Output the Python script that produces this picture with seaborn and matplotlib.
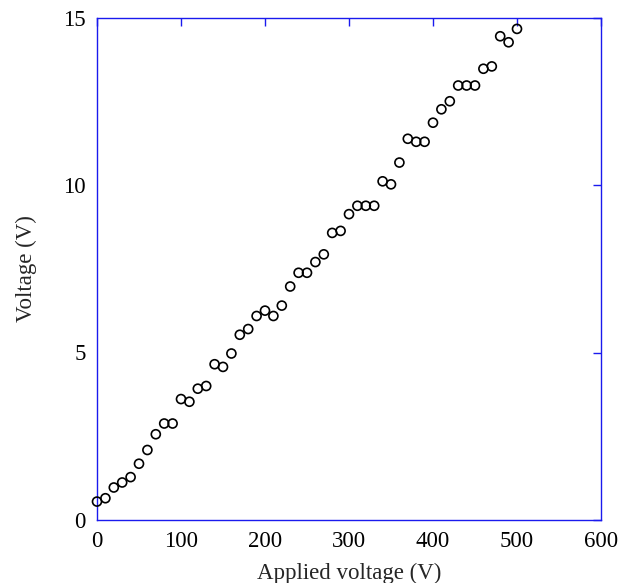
import matplotlib
matplotlib.use("Agg")
import matplotlib.pyplot as plt
import seaborn as sns
import pandas as pd

applied_v = [0, 10, 20, 30, 40, 50, 60, 70, 80, 90,
             100, 110, 120, 130, 140, 150, 160, 170, 180, 190,
             200, 210, 220, 230, 240, 250, 260, 270, 280, 290,
             300, 310, 320, 330, 340, 350, 360, 370, 380, 390,
             400, 410, 420, 430, 440, 450, 460, 470, 480, 490, 500]
voltage = [0.55, 0.65, 0.97, 1.12, 1.28, 1.68, 2.09, 2.56, 2.88, 2.88,
           3.61, 3.53, 3.92, 4.00, 4.65, 4.57, 4.97, 5.53, 5.70, 6.09,
           6.25, 6.09, 6.40, 6.97, 7.38, 7.38, 7.70, 7.93, 8.57, 8.63,
           9.13, 9.38, 9.38, 9.38, 10.11, 10.02, 10.67, 11.38, 11.29, 11.29,
           11.86, 12.26, 12.50, 12.97, 12.97, 12.97, 13.47, 13.54, 14.44, 14.26, 14.66]

x_ticks = [0, 100, 200, 300, 400, 500, 600]
y_ticks = [0, 5, 10, 15]

sns.set_style("white")
plt.rcParams['font.family'] = ['Liberation Serif', 'DejaVu Serif']

df = pd.DataFrame({"Applied voltage (V)": applied_v, "Voltage (V)": voltage})

fig = plt.figure(figsize=(6.3, 5.83), dpi=100)
ax = fig.add_axes([97/630, 1-520/583, (601-97)/630, (520-17.5)/583])

sns.scatterplot(data=df, x="Applied voltage (V)", y="Voltage (V)", ax=ax,
                marker="o", s=42, facecolor="none", edgecolor="black",
                linewidth=1.2, zorder=3, clip_on=False)

ax.set_xlim(0, 600)
ax.set_ylim(0, 15)
ax.set_xticks(x_ticks)
ax.set_yticks(y_ticks)
ax.set_xlabel("Applied voltage (V)", fontsize=16.5, labelpad=8)
ax.set_ylabel("Voltage (V)", fontsize=16.5, labelpad=19)

for sp in ax.spines.values():
    sp.set_visible(True)
    sp.set_color("#1a1aee")
    sp.set_linewidth(1.0)

ax.tick_params(axis="both", which="both", direction="in", length=6, width=1,
               color="#1a1aee", labelsize=16.5, top=True, right=True,
               labelcolor="black")
ax.tick_params(axis="x", pad=8)
ax.tick_params(axis="y", pad=8)

fig.savefig("out.png", dpi=100)
